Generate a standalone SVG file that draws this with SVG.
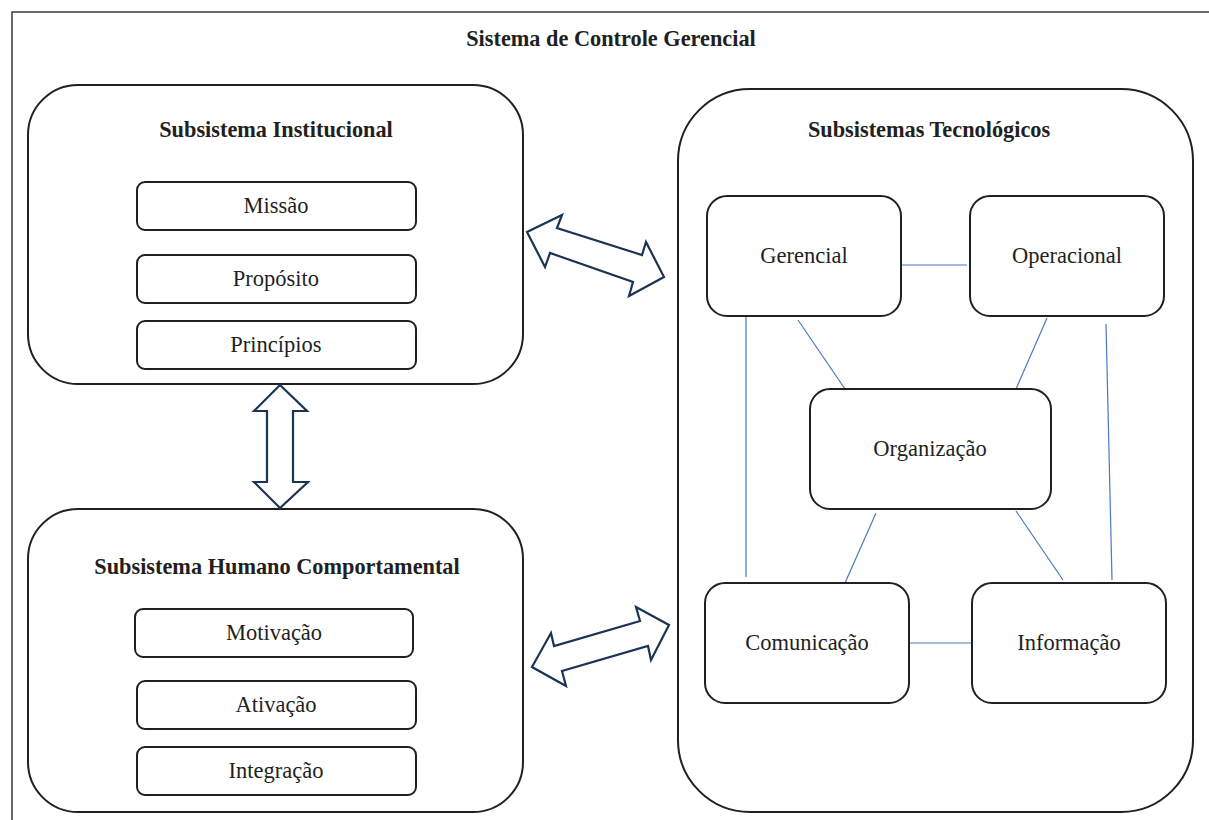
<svg xmlns="http://www.w3.org/2000/svg" width="1209" height="820" viewBox="0 0 1209 820">
<style>
.frame{fill:none;stroke:#3a3a3a;stroke-width:1.5}
.big{fill:#fff;stroke:#231f20;stroke-width:2}
.box{fill:#fff;stroke:#231f20;stroke-width:2}
.arrow{fill:#fff;stroke:#1b3454;stroke-width:2.2;stroke-linejoin:miter}
.con{stroke:#4a78c2;stroke-width:1.2;fill:none}
text{font-family:"Liberation Serif","Times New Roman",serif;fill:#231f20;text-anchor:middle}
.h{font-weight:bold;font-size:22.3px}
.t{font-size:22.5px}
</style>
<rect width="1209" height="820" fill="#fff"/>
<path class="frame" d="M12,820 V12 H1209"/>
<text class="h" x="611" y="46">Sistema de Controle Gerencial</text>

<g id="institucional">
<rect class="big" x="28" y="85" width="495" height="299" rx="50"/>
<text class="h" x="276" y="137">Subsistema Institucional</text>
</g>
<g id="missao"><rect class="box" x="137" y="182" width="279" height="48" rx="8"/><text class="t" x="276" y="213">Missão</text></g>
<g id="proposito"><rect class="box" x="137" y="255" width="279" height="48" rx="8"/><text class="t" x="276" y="286">Propósito</text></g>
<g id="principios"><rect class="box" x="137" y="321" width="279" height="48" rx="8"/><text class="t" x="276" y="352">Princípios</text></g>

<g id="humano">
<rect class="big" x="28" y="509" width="495" height="303" rx="50"/>
<text class="h" x="277" y="574">Subsistema Humano Comportamental</text>
</g>
<g id="motivacao"><rect class="box" x="135" y="609" width="278" height="48" rx="8"/><text class="t" x="274" y="640">Motivação</text></g>
<g id="ativacao"><rect class="box" x="137" y="681" width="279" height="48" rx="8"/><text class="t" x="276" y="712">Ativação</text></g>
<g id="integracao"><rect class="box" x="137" y="747" width="279" height="48" rx="8"/><text class="t" x="276" y="778">Integração</text></g>

<g id="tecnologicos">
<rect class="big" x="678" y="89" width="515" height="723" rx="72"/>
<text class="h" x="929" y="137">Subsistemas Tecnológicos</text>
</g>

<g id="connectors">
<line class="con" x1="902" y1="265" x2="967" y2="265"/>
<line class="con" x1="746" y1="316" x2="746" y2="577"/>
<line class="con" x1="798" y1="320" x2="845" y2="389"/>
<line class="con" x1="1047" y1="318" x2="1016" y2="389"/>
<line class="con" x1="1106" y1="324" x2="1112" y2="580"/>
<line class="con" x1="876" y1="513" x2="845" y2="583"/>
<line class="con" x1="1016" y1="511" x2="1063" y2="580"/>
<line class="con" x1="910" y1="643" x2="975" y2="643"/>
<polygon class="arrow" points="527,232 562,215 557,228 642,255 646,242 664,277 629,296 633,282 550,253 545,267"/>
<polygon class="arrow" points="280,385 307,411 293,411 293,482 308,482 280,508 254,482 267,482 267,411 254,411"/>
<polygon class="arrow" points="532,667 551,633 554,646 640,621 636,607 669,625 651,660 648,646 562,671 566,686"/>
</g>

<g id="gerencial"><rect class="box" x="707" y="196" width="194" height="120" rx="20"/><text class="t" x="804" y="263">Gerencial</text></g>
<g id="operacional"><rect class="box" x="970" y="196" width="194" height="120" rx="20"/><text class="t" x="1067" y="263">Operacional</text></g>
<g id="organizacao"><rect class="box" x="810" y="389" width="241" height="120" rx="20"/><text class="t" x="930" y="456">Organização</text></g>
<g id="comunicacao"><rect class="box" x="705" y="583" width="204" height="120" rx="20"/><text class="t" x="807" y="650">Comunicação</text></g>
<g id="informacao"><rect class="box" x="972" y="583" width="194" height="120" rx="20"/><text class="t" x="1069" y="650">Informação</text></g>
</svg>
